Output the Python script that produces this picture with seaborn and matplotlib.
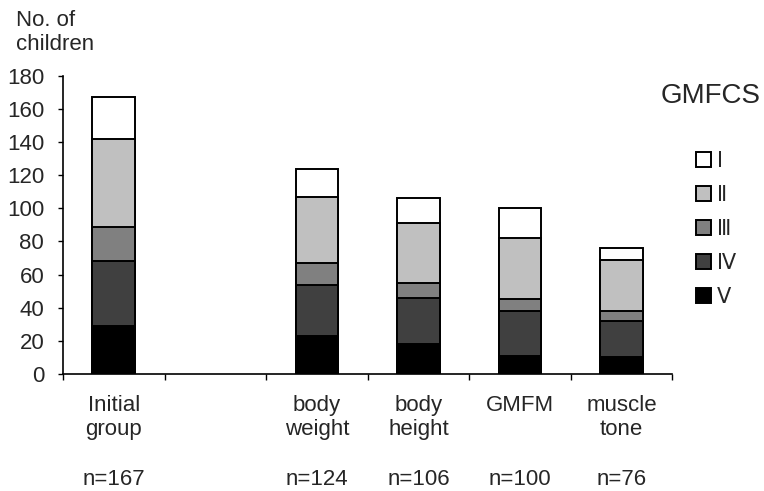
import numpy as np
import pandas as pd
import matplotlib
matplotlib.use("Agg")
import matplotlib.pyplot as plt
import seaborn as sns

#data (children per GMFCS level)
groups = ["Initial\ngroup", "body\nweight", "body\nheight", "GMFM", "muscle\ntone"]
slot_order = ["Initial\ngroup", " ", "body\nweight", "body\nheight", "GMFM", "muscle\ntone"]
level_I = [25, 17, 15, 18, 7]
level_II = [53, 40, 36, 37, 31]
level_III = [21, 13, 9, 7, 6]
level_IV = [39, 31, 28, 27, 22]
level_V = [29, 23, 18, 11, 10]
level_names = ["\u2160", "\u2161", "\u2162", "\u2163", "\u2164"]
level_colors = ["white", "#c0c0c0", "#808080", "#404040", "black"]

data = pd.DataFrame({"group": groups, "I": level_I, "II": level_II,
                     "III": level_III, "IV": level_IV, "V": level_V})
#cumulative heights, drawn from the top segment down
data["cum_V"] = data["V"]
data["cum_IV"] = data["cum_V"] + data["IV"]
data["cum_III"] = data["cum_IV"] + data["III"]
data["cum_II"] = data["cum_III"] + data["II"]
data["cum_I"] = data["cum_II"] + data["I"]

sns.set_style("ticks")
plt.rcParams["font.family"] = ["Liberation Sans", "DejaVu Sans"]
fs = 16

fig = plt.figure(figsize=(7.64, 4.91), dpi=100)
ax = fig.add_axes([0.0825, 0.2383, 0.7975, 0.6075])

cum_cols = ["cum_I", "cum_II", "cum_III", "cum_IV", "cum_V"]
for col, name, c in zip(cum_cols, level_names, level_colors):
    sns.barplot(data=data, x="group", y=col, order=slot_order, color=c,
                edgecolor="black", linewidth=1.4, width=0.42, saturation=1,
                errorbar=None, label=name, ax=ax)

#format axes
ax.set_xlim(-0.5, len(slot_order) - 0.5)
ax.set_ylim(0, 180)
ax.set_yticks(np.arange(0, 181, 20))
ax.set_xlabel("")
ax.set_ylabel("")
ax.set_xticks(np.arange(-0.5, len(slot_order)), labels=[])
ax.set_xticks(np.arange(len(slot_order)), labels=slot_order, minor=True)
ax.tick_params(axis="x", which="major", length=4.5, width=1, color="black")
ax.tick_params(axis="x", which="minor", length=0, pad=15, labelsize=fs)
ax.tick_params(axis="y", length=3.6, width=1, color="black", pad=10, labelsize=fs)
for s in ["left", "bottom"]:
    ax.spines[s].set_linewidth(1.2)
    ax.spines[s].set_color("black")
sns.despine(ax=ax)

#n= counts under each group
for g, tot in zip(groups, data["cum_I"]):
    ax.text(slot_order.index(g), -0.372, f"n={tot}", transform=ax.get_xaxis_transform(),
            ha="center", va="baseline", fontsize=fs)

fig.text(16 / 764, 1 - 10 / 491, "No. of\nchildren", ha="left", va="top", fontsize=fs)
fig.text(661 / 764, 1 - 103 / 491, "GMFCS", ha="left", va="baseline", fontsize=20)

handles, labels = ax.get_legend_handles_labels()
ax.legend(handles, labels, loc="upper left", bbox_to_anchor=(696 / 764, 1 - 152 / 491),
          bbox_transform=fig.transFigure, frameon=False, fontsize=15,
          handlelength=0.7, handleheight=0.7, handletextpad=0.3,
          labelspacing=0.72, borderpad=0, borderaxespad=0)

fig.savefig("out.png", dpi=100)
